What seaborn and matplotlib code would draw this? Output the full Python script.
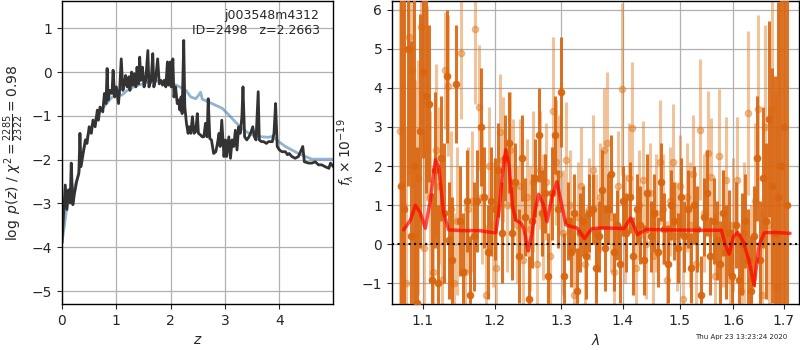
import numpy as np
import seaborn as sns
import matplotlib
matplotlib.use('Agg')
import matplotlib.pyplot as plt
from matplotlib.ticker import NullLocator

# p(z) curve (log)
z_grid = [0.0, 0.03, 0.06, 0.09, 0.12, 0.15, 0.17, 0.2, 0.23, 0.27, 0.31, 0.33, 0.35, 0.39,
          0.43, 0.46, 0.5, 0.54, 0.57, 0.61, 0.65, 0.67, 0.7, 0.75, 0.78, 0.81, 0.83, 0.85,
          0.88, 0.92, 0.94, 0.97, 1.0, 1.04, 1.06, 1.09, 1.12, 1.15, 1.17, 1.2, 1.23, 1.25,
          1.28, 1.3, 1.33, 1.36, 1.38, 1.41, 1.43, 1.45, 1.48, 1.51, 1.54, 1.58, 1.6, 1.64,
          1.67, 1.69, 1.72, 1.76, 1.79, 1.82, 1.85, 1.88, 1.91, 1.94, 1.96, 1.99, 2.01, 2.04,
          2.06, 2.09, 2.12, 2.14, 2.17, 2.19, 2.21, 2.24, 2.26, 2.29, 2.32, 2.34, 2.37, 2.4,
          2.43, 2.46, 2.49, 2.51, 2.55, 2.58, 2.61, 2.64, 2.67, 2.69, 2.72, 2.75, 2.79, 2.83,
          2.86, 2.89, 2.91, 2.94, 2.98, 3.01, 3.03, 3.07, 3.1, 3.13, 3.16, 3.19, 3.22, 3.25,
          3.28, 3.31, 3.33, 3.36, 3.4, 3.44, 3.47, 3.51, 3.54, 3.57, 3.61, 3.63, 3.67, 3.71,
          3.76, 3.8, 3.87, 3.9, 3.93, 3.96, 4.0, 4.05, 4.11, 4.15, 4.18, 4.23, 4.29, 4.35,
          4.43, 4.46, 4.54, 4.6, 4.66, 4.72, 4.78, 4.84, 4.91, 4.94, 4.99]
log_pz = [-3.9, -3.22, -2.58, -3.14, -2.69, -2.99, -2.08, -3.03, -2.77, -2.5, -2.31, -1.4, -2.16,
          -1.86, -1.55, -1.63, -1.25, -1.4, -1.1, -1.25, -0.87, -1.1, -0.8, -0.91, -0.49, -0.72,
          0.08, -0.64, -0.42, -0.49, 0.04, -0.57, -0.34, -0.72, -0.42, 0.3, -0.42, -0.27, -0.08,
          -0.34, -0.11, -0.42, 0.0, -0.3, -0.04, -0.34, 0.11, -0.27, 0.34, -0.19, 0.11, -0.34,
          -0.19, 0.49, -0.34, -0.19, 0.42, -0.34, -0.19, 0.3, -0.27, -0.19, -0.3, -0.19, -0.34,
          0.23, -0.3, 0.23, -0.34, 0.3, -0.57, -0.34, -0.72, -0.64, -0.87, -0.57, -0.95, 0.72,
          -0.8, -1.17, -1.4, -1.25, -1.4, -1.02, -1.4, -1.36, -0.95, -1.4, -1.44, -1.48, -1.48,
          -1.17, -1.48, -0.61, -1.52, -1.55, -1.86, -1.82, -1.63, -1.4, -1.7, -1.1, -1.93, -1.55,
          -1.93, -1.48, -1.97, -1.55, -1.7, -1.33, -1.78, -1.25, -1.4, -1.02, -0.34, -1.48,
          -1.55, -1.48, -1.4, -1.25, -1.48, -1.55, -0.45, -1.55, -1.59, -1.59, -1.63, -1.59,
          -1.59, -1.4, -0.72, -1.7, -1.78, -1.82, -1.82, -1.89, -1.86, -1.93, -1.97, -1.93,
          -1.7, -2.05, -2.08, -2.08, -2.05, -2.12, -2.12, -2.16, -2.2, -2.08, -2.16]

# smoothed prior-like curve
z_smooth = [0.0, 0.1, 0.2, 0.3, 0.4, 0.5, 0.6, 0.7, 0.8, 0.9, 1.0, 1.1, 1.2, 1.3, 1.4, 1.5,
            1.6, 1.7, 1.8, 1.9, 2.0, 2.1, 2.2, 2.28, 2.37, 2.46, 2.52, 2.55, 2.58, 2.76, 2.95,
            3.07, 3.19, 3.31, 3.44, 3.56, 3.68, 3.8, 3.87, 3.99, 4.11, 4.23, 4.35, 4.48, 4.6,
            4.99]
log_pz_smooth = [-3.9, -3.0, -2.75, -2.35, -1.75, -1.35, -1.1, -0.9, -0.75, -0.6, -0.5, -0.53,
                 -0.42, -0.35, -0.3, -0.27, -0.22, -0.2, -0.21, -0.23, -0.25, -0.3, -0.36, -0.42,
                 -0.57, -0.61, -0.52, -0.46, -0.62, -0.72, -0.83, -0.98, -1.14, -1.29, -1.4,
                 -1.46, -1.48, -1.49, -1.47, -1.59, -1.7, -1.78, -1.86, -1.93, -1.99, -1.99]

# spectrum 1 (dark)
lam_a = [1.072, 1.076, 1.080, 1.084, 1.088, 1.092, 1.096, 1.100, 1.104, 1.108, 1.112, 1.116,
         1.120, 1.124, 1.128, 1.132, 1.136, 1.140, 1.145, 1.150, 1.155, 1.160, 1.165, 1.170,
         1.175, 1.180, 1.185, 1.190, 1.195, 1.200, 1.205, 1.210, 1.215, 1.220, 1.225, 1.230,
         1.235, 1.240, 1.245, 1.250, 1.255, 1.260, 1.265, 1.270, 1.275, 1.280, 1.285, 1.290,
         1.295, 1.300, 1.305, 1.310, 1.315, 1.320, 1.325, 1.330, 1.335, 1.340, 1.345, 1.350,
         1.355, 1.360, 1.365, 1.370, 1.375, 1.380, 1.385, 1.390, 1.395, 1.400, 1.406, 1.412,
         1.418, 1.424, 1.430, 1.436, 1.442, 1.448, 1.454, 1.460, 1.466, 1.472, 1.478, 1.484,
         1.490, 1.496, 1.502, 1.508, 1.514, 1.520, 1.526, 1.532, 1.538, 1.544, 1.550, 1.556,
         1.562, 1.568, 1.574, 1.580, 1.586, 1.592, 1.598, 1.604, 1.610, 1.616, 1.622, 1.628,
         1.634, 1.640, 1.646, 1.652, 1.658, 1.664, 1.670, 1.676, 1.682, 1.688, 1.694, 1.700,
         1.706]
flux_a = [1.5, 0.9, 5.0, 0.2, 2.0, -1.5, 2.9, 4.4, 3.8, 3.6, -0.9, 1.9, -1.0, 2.2, 0.8, 4.3,
          0.1, -0.4, 4.1, 0.6, -0.7, 1.1, -1.3, 0.2, 1.1, 3.0, 1.2, -0.2, 1.1, 0.9, 1.9, 0.3,
          2.2, 2.6, 0.3, 1.6, -0.3, 2.2, 0.7, -1.4, 0.6, 1.7, 2.8, 0.8, 1.3, -0.8, 1.3, 2.8,
          0.9, 3.9, -0.8, 0.6, -0.2, 0.8, -1.2, 0.3, 0.6, -0.3, 0.8, 0.9, -0.6, 0.2, 1.4, -0.1,
          0.9, 1.8, -0.2, 0.5, -0.5, 1.1, 0.3, 1.2, -0.3, 0.9, 0.5, -0.4, 1.3, 0.2, 0.8, -0.2,
          1.6, 0.4, -0.5, 1.0, 0.6, -0.1, 1.2, 0.2, 0.9, -0.6, 1.0, 0.4, -1.3, 0.7, 1.3, -0.3,
          0.6, 0.1, -0.5, 0.8, -0.2, 0.3, -0.8, 0.5, -0.9, 0.0, 0.6, -0.4, -1.2, 0.2, 2.2, -0.4,
          1.7, 0.6, 3.2, 1.5, 0.3, 1.2, 2.0, 3.0, 1.0]
err_a = [5.0, 6.0, 3.5, 5.0, 4.5, 4.0, 3.0, 2.2, 2.5, 2.0, 2.2, 2.0, 2.0, 1.6, 1.8, 1.7, 1.5,
         1.6, 1.5, 1.4, 1.5, 1.3, 1.5, 1.4, 1.3, 1.5, 1.3, 1.2, 1.4, 1.3, 1.2, 1.3, 1.1, 1.3,
         1.2, 1.0, 1.2, 1.1, 1.0, 1.1, 1.2, 1.0, 1.2, 1.1, 1.0, 1.1, 1.2, 1.0, 1.0, 1.4, 1.1,
         1.0, 0.9, 1.0, 1.1, 1.0, 0.9, 1.1, 1.0, 0.9, 1.0, 0.9, 1.0, 1.1, 0.9, 1.0, 1.0, 0.9,
         1.0, 0.9, 1.0, 0.9, 1.0, 0.9, 1.0, 0.9, 1.0, 0.9, 1.0, 0.9, 1.0, 0.9, 1.0, 0.9, 1.0,
         0.9, 1.0, 0.9, 1.0, 0.9, 1.0, 1.1, 1.0, 1.0, 1.1, 1.0, 1.1, 1.0, 1.1, 1.1, 1.2, 1.1,
         1.2, 1.1, 1.2, 1.3, 1.2, 1.3, 1.4, 1.3, 1.6, 1.5, 1.8, 2.0, 2.5, 3.0, 4.0, 5.0, 6.0,
         7.0, 8.0]

# spectrum 2 (light)
lam_b = [1.070, 1.074, 1.078, 1.082, 1.086, 1.090, 1.094, 1.098, 1.102, 1.106, 1.110, 1.114,
         1.118, 1.122, 1.126, 1.130, 1.134, 1.138, 1.142, 1.147, 1.152, 1.157, 1.162, 1.167,
         1.172, 1.177, 1.182, 1.187, 1.192, 1.197, 1.202, 1.207, 1.212, 1.217, 1.222, 1.227,
         1.232, 1.237, 1.242, 1.247, 1.252, 1.257, 1.262, 1.267, 1.272, 1.277, 1.282, 1.287,
         1.292, 1.297, 1.302, 1.308, 1.314, 1.320, 1.326, 1.332, 1.338, 1.344, 1.350, 1.356,
         1.362, 1.368, 1.374, 1.380, 1.386, 1.392, 1.398, 1.404, 1.410, 1.416, 1.422, 1.428,
         1.434, 1.440, 1.446, 1.452, 1.458, 1.464, 1.470, 1.476, 1.482, 1.488, 1.494, 1.500,
         1.506, 1.512, 1.518, 1.524, 1.530, 1.537, 1.544, 1.551, 1.558, 1.565, 1.572, 1.579,
         1.586, 1.593, 1.600, 1.607, 1.614, 1.621, 1.628, 1.635, 1.642, 1.649, 1.656, 1.663,
         1.670, 1.677, 1.684, 1.691]
flux_b = [2.9, 1.0, -1.0, 5.3, 4.45, 0.2, 1.7, 5.55, -0.1, 3.6, 1.2, -0.7, 2.4, 1.5, -0.9,
          4.45, 4.06, 0.9, -1.0, 0.6, 4.9, -0.7, 0.9, 1.1, 5.5, 3.5, 1.2, -1.3, 2.0, 0.5, -0.6,
          2.86, 2.16, 1.0, 2.4, 1.6, 0.5, 1.5, -0.4, 1.2, 0.4, 1.6, -0.5, 1.9, 0.7, 1.6, -0.3,
          3.4, 2.1, 1.8, 0.3, 2.15, 1.0, -1.3, 0.7, 1.5, -0.5, 0.9, 1.9, 0.3, 1.2, 2.4, 2.6,
          0.7, -0.7, 1.5, 3.97, 0.4, 1.7, 2.97, -0.6, 1.0, 1.65, 0.0, 1.3, -0.3, 0.8, 2.1, 0.9,
          -0.9, 1.1, 2.1, 0.2, 1.5, -1.4, 1.2, 0.5, 1.8, -0.5, 2.93, 0.8, 2.33, 1.72, -0.8,
          2.26, 0.4, 1.65, -0.9, 0.5, 1.65, -1.2, 0.3, 3.36, -0.9, 1.1, 3.46, -1.3, 3.0, 0.5,
          3.46, -1.1, 2.0]
err_b = [4.5, 5.0, 4.0, 3.5, 3.0, 4.0, 3.0, 2.5, 3.0, 2.5, 2.2, 2.0, 2.2, 2.0, 1.8, 1.5, 1.8,
         2.0, 1.8, 1.9, 1.7, 1.8, 1.6, 1.8, 1.9, 1.6, 1.7, 1.8, 1.5, 1.6, 1.7, 1.5, 1.6, 1.7,
         1.5, 1.6, 1.5, 1.7, 1.6, 1.5, 1.6, 1.8, 1.6, 1.5, 1.6, 1.5, 1.7, 1.9, 1.6, 1.5, 1.6,
         1.5, 1.4, 1.6, 1.4, 1.5, 1.4, 1.3, 1.4, 1.5, 1.4, 1.6, 1.8, 1.4, 1.5, 1.4, 2.2, 1.4,
         1.4, 1.7, 1.5, 1.4, 1.5, 1.4, 1.3, 1.4, 1.5, 1.6, 1.4, 1.5, 1.4, 1.5, 1.4, 1.3, 1.5,
         1.4, 1.6, 1.5, 1.4, 1.8, 1.5, 1.6, 1.5, 1.6, 1.7, 1.5, 1.6, 1.5, 1.7, 1.6, 1.7, 1.8,
         2.1, 1.9, 2.0, 2.4, 2.2, 2.6, 3.0, 4.5, 5.0, 6.0]

# best-fit model
lam_model = [1.075, 1.0838, 1.0903, 1.0969, 1.1035, 1.1102, 1.1169, 1.1213, 1.1281, 1.135,
             1.155, 1.178, 1.197, 1.2015, 1.2063, 1.211, 1.2159, 1.2208, 1.2256, 1.2305,
             1.2378, 1.2427, 1.2492, 1.2551, 1.26, 1.265, 1.2726, 1.2777, 1.2854, 1.2931,
             1.3009, 1.3072, 1.3167, 1.3246, 1.3369, 1.3488, 1.3653, 1.3877, 1.402, 1.4134,
             1.425, 1.4398, 1.47, 1.532, 1.577, 1.584, 1.5919, 1.6, 1.6083, 1.6196, 1.6299,
             1.6402, 1.6506, 1.661, 1.686, 1.713]
flux_model = [0.37, 0.62, 1.0, 0.8, 0.41, 1.14, 2.16, 1.99, 0.8, 0.37, 0.35, 0.35, 0.3, 0.3,
              0.9, 1.8, 2.42, 2.0, 1.0, 0.62, 0.55, 0.4, -0.17, 0.3, 0.9, 1.28, 1.0, 0.58,
              1.2, 1.6, 1.0, 0.5, 0.45, 0.42, 0.15, 0.4, 0.42, 0.41, 0.4, 0.67, 0.25, 0.38,
              0.37, 0.36, 0.36, 0.0, -0.25, 0.2, 0.3, 0.05, -0.4, -1.04, 0.0, 0.3, 0.3, 0.28]

xticks_z = [0, 1, 2, 3, 4]
yticks_pz = [-5, -4, -3, -2, -1, 0, 1]
xticks_lam = [1.1, 1.2, 1.3, 1.4, 1.5, 1.6, 1.7]
yticks_flux = [-1, 0, 1, 2, 3, 4, 5, 6]

sns.set_style('ticks')
plt.rcParams['font.family'] = ['DejaVu Sans']
plt.rcParams['axes.grid'] = True
plt.rcParams['grid.color'] = '#b0b0b0'
plt.rcParams['grid.linewidth'] = 0.9

fig = plt.figure(figsize=(8, 3.5), dpi=100)
ax1 = fig.add_axes([0.0775, 0.131, 0.339, 0.866])
ax2 = fig.add_axes([0.49, 0.131, 0.509, 0.866])

# left: p(z)
sns.lineplot(x=z_smooth, y=log_pz_smooth, ax=ax1, color='steelblue', alpha=0.6, lw=2)
sns.lineplot(x=z_grid, y=log_pz, ax=ax1, color='#333333', alpha=1.0, lw=2)
ax1.set_xlim(0, 4.99)
ax1.set_ylim(-5.3, 1.62)
ax1.set_xticks(xticks_z)
ax1.set_yticks(yticks_pz)
ax1.set_xticklabels([str(t) for t in xticks_z])
ax1.set_yticklabels(['\u2212' + str(-t) if t < 0 else str(t) for t in yticks_pz])
ax1.set_xlabel(r'$z$', fontsize=10)
ax1.set_ylabel(r'$\log\ p(z)$ / $\chi^2=\frac{2285}{2322}=0.98$', fontsize=10)
ax1.text(0.95, 0.975, 'j003548m4312\nID=2498   z=2.2663', transform=ax1.transAxes,
         ha='right', va='top', fontsize=9, linespacing=1.25)
ax1.grid(True)

# right: spectrum
ax2.errorbar(lam_b, flux_b, yerr=err_b, fmt='o', color='#e07a20', alpha=0.45, ms=4.5,
             elinewidth=2.2, capsize=0, zorder=2)
ax2.errorbar(lam_a, flux_a, yerr=err_a, fmt='o', color='#d9650f', alpha=0.9, ms=4.5,
             elinewidth=2.2, capsize=0, zorder=3)
sns.lineplot(x=lam_model, y=flux_model, ax=ax2, color='red', alpha=0.7, lw=2.5, zorder=4)
ax2.axhline(0, color='k', ls=':', lw=1.5, zorder=5)
ax2.set_xscale('log')
ax2.set_xlim(1.060, 1.732)
ax2.set_ylim(-1.53, 6.22)
ax2.set_xticks(xticks_lam)
ax2.set_xticklabels([str(t) for t in xticks_lam])
ax2.xaxis.set_minor_locator(NullLocator())
ax2.set_yticks(yticks_flux)
ax2.set_yticklabels(['\u2212' + str(-t) if t < 0 else str(t) for t in yticks_flux])
ax2.set_xlabel(r'$\lambda$', fontsize=10)
ax2.set_ylabel(r'$f_\lambda\times10^{-19}$', fontsize=10)
ax2.grid(True)

for ax in (ax1, ax2):
    ax.tick_params(labelsize=10)
    for s in ax.spines.values():
        s.set_linewidth(1.0)
        s.set_color('k')
    ax.set_axisbelow(True)

fig.text(0.984, 0.028, 'Thu Apr 23 13:23:24 2020', ha='right', va='bottom', fontsize=5)

fig.savefig('out.png', dpi=100)
